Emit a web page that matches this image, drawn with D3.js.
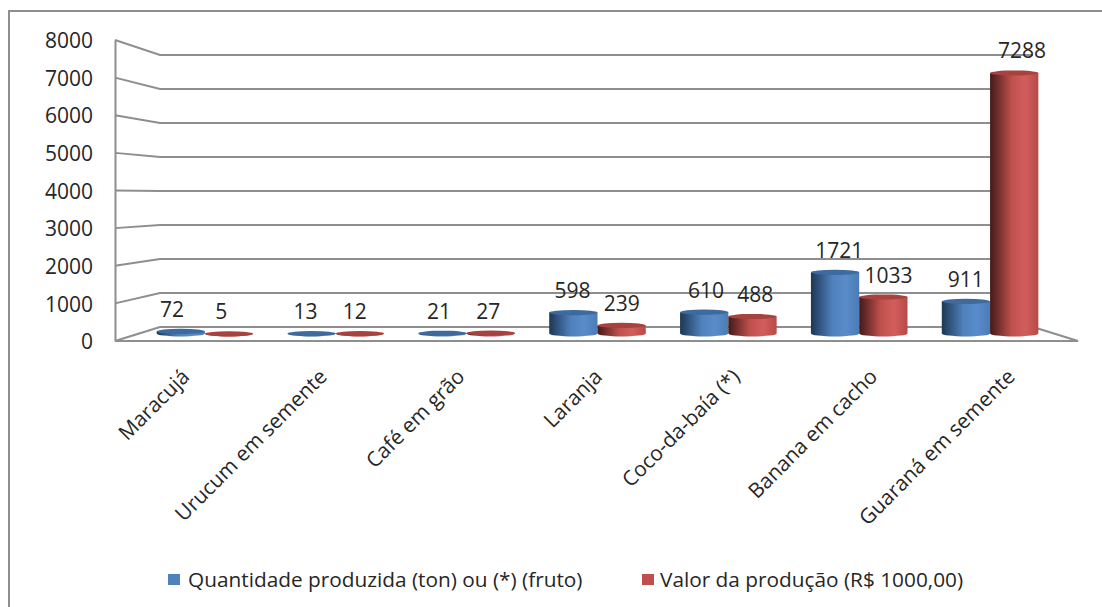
<!DOCTYPE html>
<html><head><meta charset="utf-8">
<script src="https://d3js.org/d3.v7.min.js"></script>
<style>html,body{margin:0;padding:0;background:#fff;overflow:hidden}svg{display:block}text{font-family:"Open Sans",sans-serif;fill:#262626}</style>
</head><body><svg id="c" width="1102" height="607"></svg>
<script>
const categories = ["Maracujá","Urucum em semente","Café em grão","Laranja","Coco-da-baía (*)","Banana em cacho","Guaraná em semente"];
const quantidade = [72,13,21,598,610,1721,911];
const valor = [5,12,27,239,488,1033,7288];
const yTicks = [0,1000,2000,3000,4000,5000,6000,7000,8000];
const seriesNames = ["Quantidade produzida (ton) ou (*) (fruto)","Valor da produção (R$ 1000,00)"];
const seriesColors = ["#4f81bd","#c0504d"];

const svg = d3.select("#c");
const LINE = "#8e8e8e";
const domain = [0,8000];
const F = {l:115,r:1078,b:341,t:40}, B = {l:160,r:1033,b:327,t:55};
const M = {l:(F.l+B.l)/2+2,r:(F.r+B.r)/2,b:(F.b+B.b)/2-.5,t:(F.t+B.t)/2-.5};
const yFront = d3.scaleLinear().domain(domain).range([F.b,F.t]);
const yBack = d3.scaleLinear().domain(domain).range([B.b,B.t]);
const yBar = d3.scaleLinear().domain(domain).range([M.b,M.t]);
const xFront = d3.scaleBand().domain(categories).range([F.l,F.r]);
const xBar = d3.scaleBand().domain(categories).range([M.l,M.r]).paddingInner(.262).paddingOuter(.131);
const xSeries = d3.scaleBand().domain([0,1]).range([0,xBar.bandwidth()]);

// gradients
const defs = svg.append("defs");
[["#1e3754","#4f81bd","#5a8ccb","#4b7cb6"],["#431a1a","#c0504d","#d25e5c","#b64b48"]].forEach((c,i)=>{
  const g = defs.append("linearGradient").attr("id","g"+i);
  [[0,c[0]],[.45,c[1]],[.72,c[2]],[1,c[3]]].forEach(s=>g.append("stop").attr("offset",s[0]).attr("stop-color",s[1]));
});

// frame
svg.append("path").attr("d",d3.line()([[9,607],[9,11],[1102,11]])).attr("fill","none").attr("stroke",LINE).attr("stroke-width",2);

// walls and floor
const grid = svg.append("g").attr("fill","none").attr("stroke",LINE).attr("stroke-width",2);
yTicks.forEach(v=>{
  grid.append("path").attr("d",d3.line()([[F.l,yFront(v)],[B.l,yBack(v)],[B.r,yBack(v)]]));
});
grid.append("path").attr("d",d3.line()([[B.r,yBack(0)],[F.r,yFront(0)],[F.l,yFront(0)]]));

// value axis
const yAxis = svg.append("g").attr("transform",`translate(${F.l},0)`)
  .call(d3.axisLeft(yFront).tickValues(yTicks).tickFormat(d3.format("d")).tickSize(0).tickPadding(22));
yAxis.select(".domain").attr("stroke",LINE).attr("stroke-width",2);
yAxis.selectAll("text").attr("font-size",21).attr("y",1).style("font-family",'"Open Sans",sans-serif').attr("fill","#262626");

// cylinders
const RY_BASE = 3, RY_TOP = 2.6;
const rows = [];
categories.forEach((c,i)=>{ rows.push({c,s:0,v:quantidade[i]}); rows.push({c,s:1,v:valor[i]}); });
const bars = svg.append("g");
rows.forEach(d=>{
  const x0 = xBar(d.c)+xSeries(d.s), w = xSeries.bandwidth(), yB = yBar(0), yT = yBar(d.v)+.5;
  const g = bars.append("g");
  g.append("path").attr("fill",`url(#g${d.s})`)
    .attr("d",`M${x0},${yT}L${x0},${yB}A${w/2},${RY_BASE} 0 0 0 ${x0+w},${yB}L${x0+w},${yT}Z`);
  g.append("ellipse").attr("cx",x0+w/2).attr("cy",yT).attr("rx",w/2).attr("ry",RY_TOP)
    .attr("fill",d.s?"#a8423f":"#3d6a9f");
});

// data labels: slight perspective drift from the plot centre, as the original draws them
const LABEL_DRIFT = .02, LABEL_RISE = 14;
rows.forEach(d=>{
  const cx = xBar(d.c)+xSeries(d.s)+xSeries.bandwidth()/2;
  const nudge = d.v===911 ? -7 : 0;
  svg.append("text").text(d.v).attr("font-size",21).attr("text-anchor","middle")
    .attr("x",cx+(cx-620)*LABEL_DRIFT+nudge).attr("y",yBar(d.v)-LABEL_RISE);
});

// category labels
categories.forEach(c=>{
  const cx = xFront(c)+xFront.bandwidth()/2;
  svg.append("text").text(c).attr("font-size",20.8).attr("text-anchor","end")
    .attr("transform",`translate(${cx+7},${378}) rotate(-45)`);
});

// legend
[[168,188],[642,660]].forEach((p,i)=>{
  svg.append("rect").attr("x",p[0]).attr("y",574).attr("width",12).attr("height",11).attr("fill",seriesColors[i]);
  svg.append("text").text(seriesNames[i]).attr("x",p[1]).attr("y",587).attr("font-size",20.8);
});
</script></body></html>
